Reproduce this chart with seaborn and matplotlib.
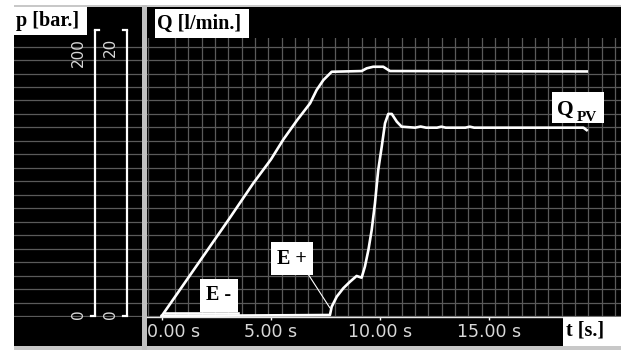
"""Oscilloscope-style trace: pump flow Q and proportional-valve flow Q_PV over time."""

import matplotlib
matplotlib.use("Agg")
import matplotlib.pyplot as plt
import numpy as np
import pandas as pd
import seaborn as sns
from matplotlib import patches
from matplotlib.transforms import ScaledTranslation

# --- data (t in s, Q in l/min) ---
TOTAL_T = [0.0, 1.5, 3.05, 4.19, 5.0, 5.57, 6.2, 6.79, 7.09, 7.40, 7.78,
           9.15, 9.38, 9.68, 10.14, 10.45, 19.45]
TOTAL_Q = [0.0, 3.3, 6.71, 9.28, 10.95, 12.35, 13.7, 14.87, 15.8, 16.5, 17.08,
           17.13, 17.32, 17.43, 17.43, 17.13, 17.1]

PV_T = [0.0, 7.70, 7.78, 8.01, 8.31, 8.62, 8.92, 9.15, 9.30, 9.46, 9.61,
        9.76, 9.91, 10.07, 10.22, 10.37, 10.53, 10.76, 10.98, 11.6, 11.85,
        12.1, 12.6, 12.8, 13.0, 13.9, 14.1, 14.3, 19.3, 19.45]
PV_Q = [0.0, 0.07, 0.65, 1.35, 1.94, 2.40, 2.80, 2.68, 3.45, 4.62, 6.01,
        7.88, 10.21, 11.84, 13.48, 14.13, 14.13, 13.59, 13.24, 13.17, 13.25,
        13.17, 13.17, 13.24, 13.17, 13.17, 13.24, 13.17, 13.17, 13.0]

E_T = [0.15, 3.5]       # "E -" signal segment
E_Q = [0.18, 0.18]

T_TICKS = [0, 5, 10, 15]
Q_RANGE = [0, 20]
P_LABELS = ["0", "200"]
Q_LABELS = ["0", "20"]

# --- screen geometry (pixels of the 621x350 capture) ---
W, H = 621, 350
PX_PER_S, T0_PX = 21.85, 161.7
PX_PER_Q, Q0_PX = 14.3, 316.0
GRID_X_PX, GRID_Y_PX = 13.33, 13.47

SERIF = dict(family="Liberation Serif", weight="bold", color="black")


def fx(x):
    return x / W


def fy(y):
    return 1 - y / H


def rect(x0, y0, x1, y1):
    return [fx(x0), fy(y1), (x1 - x0) / W, (y1 - y0) / H]


def add_box(fig, x0, y0, x1, y1, color, z=-2):
    fig.patches.append(patches.Rectangle(
        (fx(x0), fy(y1)), (x1 - x0) / W, (y1 - y0) / H,
        transform=fig.transFigure, facecolor=color, edgecolor="none", zorder=z,
    ))


fig = plt.figure(figsize=(W / 100, H / 100), dpi=100, facecolor="white")

# screen frame
add_box(fig, 14, 4.7, 621, 6.7, "#c8c8c8")
add_box(fig, 14, 345.5, 621, 350, "#c8c8c8")
add_box(fig, 14, 6.7, 142, 345.5, "black")
add_box(fig, 147, 6.7, 621, 345.5, "black")
add_box(fig, 142, 4.7, 147, 350, "#c0c0c0")

ylim = ((Q0_PX - 317) / PX_PER_Q, (Q0_PX - 38) / PX_PER_Q)
q_grid = np.arange(0, 21) * GRID_Y_PX / PX_PER_Q

# --- main trace area ---
ax = fig.add_axes(rect(147, 38, 621, 317))
ax.set_facecolor("none")
ax.set_xlim((147 - T0_PX) / PX_PER_S, (621 - T0_PX) / PX_PER_S)
ax.set_ylim(*ylim)

t_grid = np.arange(-1, 35) * GRID_X_PX / PX_PER_S
ax.set_xticks(t_grid, minor=True)
ax.set_yticks(q_grid, minor=True)
ax.set_yticks([])
ax.grid(which="minor", color="#5a5a5a", linewidth=0.9)
ax.grid(which="major", visible=False)
ax.set_axisbelow(True)

total = pd.DataFrame({"t": TOTAL_T, "q": TOTAL_Q})
pv = pd.DataFrame({"t": PV_T, "q": PV_Q})
sig = pd.DataFrame({"t": E_T, "q": E_Q})
for df in (total, pv, sig):
    sns.lineplot(data=df, x="t", y="q", ax=ax, color="white", linewidth=1.9,
                 estimator=None, legend=False)
ax.set_xlabel("")
ax.set_ylabel("")

ax.set_xticks(T_TICKS, labels=[f"{t:.2f} s" for t in T_TICKS])
ax.tick_params(axis="x", which="major", colors="white", labelcolor="#d8d8d8",
               length=2, width=1, pad=2, labelsize=12.5)
ax.tick_params(which="minor", length=0)
ax.tick_params(axis="y", which="both", left=False, labelleft=False)
first = ax.get_xticklabels()[0]
first.set_horizontalalignment("left")
first.set_transform(first.get_transform() + ScaledTranslation(-0.15, 0, fig.dpi_scale_trans))
for side in ("top", "left", "right"):
    ax.spines[side].set_visible(False)
ax.spines["bottom"].set_color("#e8e8e8")
ax.spines["bottom"].set_linewidth(1.0)

box = dict(boxstyle="square,pad=0.3", facecolor="white", edgecolor="none")
ax.text((218.9 - T0_PX) / PX_PER_S, (Q0_PX - 295.5) / PX_PER_Q, "E -",
        ha="center", va="center", fontsize=14.5, bbox=box, **SERIF)
ax.annotate("E +", xy=(7.70, 0.56),
            xytext=((292 - T0_PX) / PX_PER_S, (Q0_PX - 258.5) / PX_PER_Q),
            ha="center", va="center", fontsize=14.5, bbox=box, **SERIF,
            arrowprops=dict(arrowstyle="-", color="white", lw=0.8,
                            relpos=(0.92, 0.0), shrinkA=0, shrinkB=0))

# --- left scale panel ---
axl = fig.add_axes(rect(14, 38, 142, 317))
axl.set_facecolor("none")
axl.set_xlim(14, 142)
axl.set_ylim(*ylim)
axl.axis("off")
for q in q_grid:
    axl.axhline(q, color="#5a5a5a", linewidth=0.9, zorder=0)

for bx, hooks, labels in [(95, (4, -4), P_LABELS), (126.5, (-4, -4), Q_LABELS)]:
    axl.plot([bx, bx], Q_RANGE, color="white", lw=1.6, clip_on=False,
             solid_capstyle="butt")
    axl.plot([bx, bx + hooks[0]], [Q_RANGE[1]] * 2, color="white", lw=1.6, clip_on=False)
    axl.plot([bx, bx + hooks[1]], [Q_RANGE[0]] * 2, color="white", lw=1.6, clip_on=False)
    lx = bx - 16.5
    axl.annotate(labels[1], xy=(lx, Q_RANGE[1]), xytext=(0, -5.8),
                 textcoords="offset points", rotation=90, ha="center", va="top",
                 fontsize=11, color="#d8d8d8", annotation_clip=False)
    axl.annotate(labels[0], xy=(lx, Q_RANGE[0]), xytext=(0, 1.5),
                 textcoords="offset points", rotation=90, ha="center", va="center",
                 fontsize=11, color="#d8d8d8", annotation_clip=False)

# --- white caption boxes ---
add_box(fig, 14, 6.7, 87, 35, "white", z=1)
fig.text(fx(16), fy(21), "p [bar.]", ha="left", va="center", fontsize=14.5, **SERIF)
add_box(fig, 155, 9, 249, 38, "white", z=1)
fig.text(fx(157), fy(24), "Q [l/min.]", ha="left", va="center", fontsize=14.5, **SERIF)
add_box(fig, 563, 316.5, 621, 345.5, "white", z=1)
fig.text(fx(566), fy(331), "t [s.]", ha="left", va="center", fontsize=14.5, **SERIF)
add_box(fig, 551.7, 91.7, 604.3, 122.7, "white", z=1)
fig.text(fx(557), fy(114.5), "Q", ha="left", va="baseline", fontsize=15.5, **SERIF)
fig.text(fx(576.5), fy(121), "PV", ha="left", va="baseline", fontsize=11, **SERIF)

fig.savefig("out.png", dpi=100, facecolor="white")
